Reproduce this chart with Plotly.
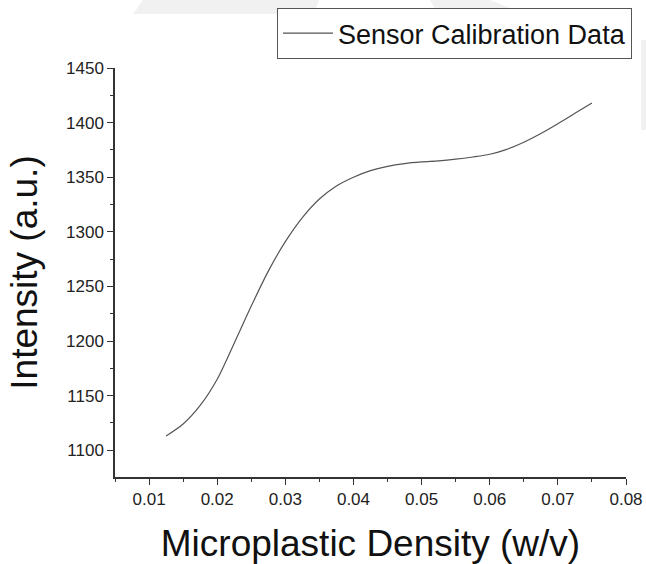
import plotly.graph_objects as go

density = [0.0125, 0.015, 0.0175, 0.02, 0.0225, 0.025, 0.0275, 0.03, 0.0325, 0.035,
           0.0375, 0.04, 0.0425, 0.045, 0.0475, 0.05, 0.0525, 0.055, 0.0575, 0.06,
           0.0625, 0.065, 0.0675, 0.07, 0.0725, 0.075]
intensity = [1113, 1124, 1141, 1165, 1198, 1232, 1264, 1291, 1313, 1330,
             1342, 1350, 1356, 1360, 1362.5, 1364, 1365, 1366.5, 1368.5, 1371,
             1375.5, 1382, 1390, 1399, 1408.5, 1418]

x_ticks = [0.01, 0.02, 0.03, 0.04, 0.05, 0.06, 0.07, 0.08]
x_tick_labels = ["0.01", "0.02", "0.03", "0.04", "0.05", "0.06", "0.07", "0.08"]
y_ticks = [1100, 1150, 1200, 1250, 1300, 1350, 1400, 1450]

FONT = "Liberation Sans, Arial, sans-serif"

fig = go.Figure()
fig.add_trace(go.Scatter(
    x=density, y=intensity, mode="lines",
    line=dict(color="#555555", width=1.2, shape="spline", smoothing=0.8),
    name="Sensor Calibration Data",
))

W, H = 646, 564
L, R, T, B = 115, 20, 68, 87
pw, ph = W - L - R, H - T - B

def px(xp):
    return (xp - L) / pw

def py(yp):
    return (H - B - yp) / ph

# faint watermark shapes
wm = [
    [(143, 0), (319, 0), (314, 14), (133, 14)],
    [(430, 0), (490, 0), (525, 14), (438, 14)],
    [(641, 40), (646, 40), (646, 130), (641, 130)],
]
shapes = []
for poly in wm:
    path = "M " + " L ".join(f"{px(a):.4f},{py(b):.4f}" for a, b in poly) + " Z"
    shapes.append(dict(type="path", xref="paper", yref="paper", path=path,
                       fillcolor="#f1f1f1", line=dict(width=0), layer="below"))

fig.update_layout(
    width=W, height=H,
    margin=dict(l=L, r=R, t=T, b=B, autoexpand=False),
    paper_bgcolor="white", plot_bgcolor="white",
    font=dict(family=FONT, color="#111111"),
    shapes=shapes,
    showlegend=True,
    legend=dict(
        x=px(632), y=py(8), xanchor="right", yanchor="top",
        bgcolor="white", bordercolor="#555555", borderwidth=1,
        font=dict(family=FONT, size=27, color="#111111"),
        itemwidth=50,
    ),
    xaxis=dict(
        range=[0.005, 0.08], tickmode="array", tickvals=x_ticks, ticktext=x_tick_labels,
        showgrid=False, zeroline=False, showline=True, linecolor="#333333", linewidth=1.5,
        ticks="outside", ticklen=6, tickwidth=1.2, tickcolor="#333333",
        tickfont=dict(family=FONT, size=17, color="#222222"),
        minor=dict(dtick=0.005, tick0=0.005, ticks="outside", ticklen=3, tickwidth=1, tickcolor="#333333"),
        automargin=False,
        title=dict(text="Microplastic Density (w/v)", font=dict(family=FONT, size=37, color="#111111"), standoff=42),
    ),
    yaxis=dict(
        range=[1075.5, 1450], tickmode="array", tickvals=y_ticks,
        showgrid=False, zeroline=False, showline=True, linecolor="#333333", linewidth=1.5,
        ticks="outside", ticklen=6, tickwidth=1.2, tickcolor="#333333",
        tickfont=dict(family=FONT, size=17, color="#222222"),
        minor=dict(dtick=25, tick0=1075, ticks="outside", ticklen=3, tickwidth=1, tickcolor="#333333"),
        automargin=False,
        title=dict(text="Intensity (a.u.)", font=dict(family=FONT, size=37, color="#111111"), standoff=17),
    ),
)

fig.write_html("out.html", config={"displayModeBar": False},
               post_script="document.body.style.margin='0';document.body.style.padding='0';")
